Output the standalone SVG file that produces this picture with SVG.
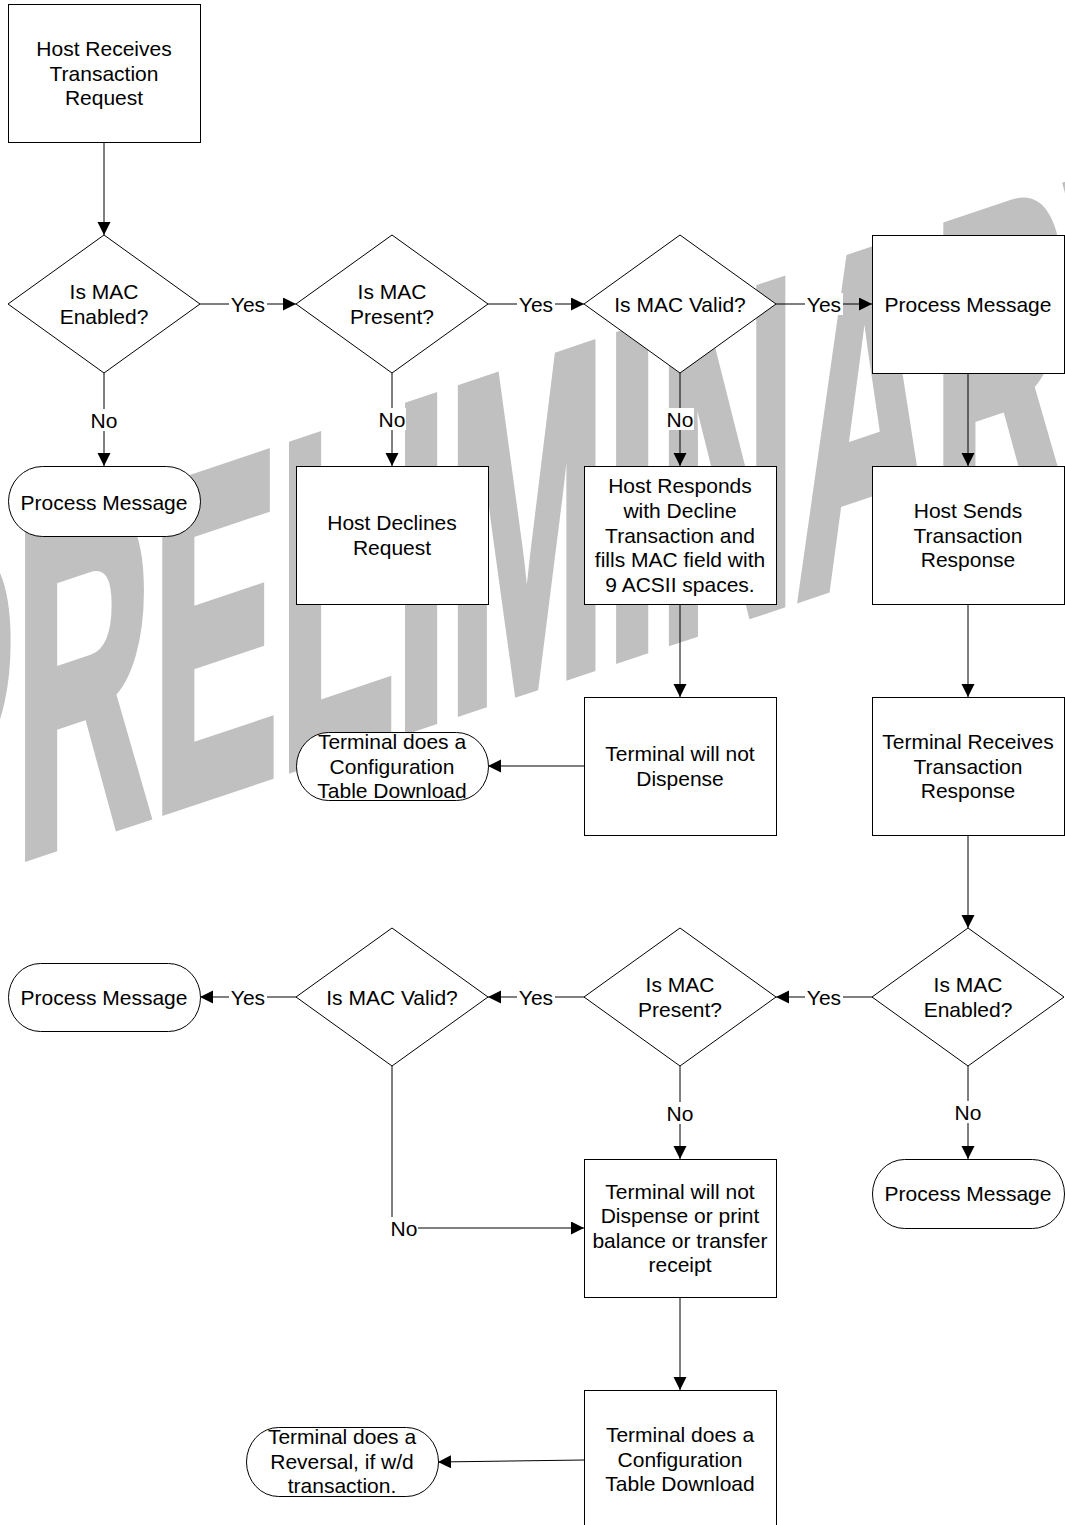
<svg xmlns="http://www.w3.org/2000/svg" width="1065" height="1525" viewBox="0 0 1065 1525">
<style>
.n{fill:#fff;stroke:#000;stroke-width:1}
.t{font-family:"Liberation Sans",Arial,sans-serif;font-size:21px;fill:#000;text-anchor:middle}
.c{stroke:#000;stroke-width:1;fill:none}
.lb{fill:#fff}
.wm{font-family:"Liberation Sans",Arial,sans-serif;font-weight:bold;font-size:190px;fill:#c0c0c0;stroke:#c0c0c0;stroke-width:9;stroke-linejoin:miter}
</style>
<defs>
<marker id="ah" markerUnits="userSpaceOnUse" markerWidth="14" markerHeight="14" refX="13" refY="6.5" orient="auto">
<path d="M0,0 L13,6.5 L0,13 z" fill="#000"/>
</marker>
</defs>
<rect width="1065" height="1525" fill="#fff"/>
<g id="watermark" transform="matrix(1,-0.335,0,2.45,0,864.6)">
<text class="wm" x="-112" y="0" vector-effect="non-scaling-stroke">PRELIMINARY</text>
</g>
<g id="connectors">
<path class="c" d="M104,142 V235" marker-end="url(#ah)"/>
<path class="c" d="M200,304 H296" marker-end="url(#ah)"/>
<path class="c" d="M488,304 H584" marker-end="url(#ah)"/>
<path class="c" d="M776,304 H872" marker-end="url(#ah)"/>
<path class="c" d="M104,373 V466" marker-end="url(#ah)"/>
<path class="c" d="M392,373 V466" marker-end="url(#ah)"/>
<path class="c" d="M680,373 V466" marker-end="url(#ah)"/>
<path class="c" d="M968,373 V466" marker-end="url(#ah)"/>
<path class="c" d="M680,604 V697" marker-end="url(#ah)"/>
<path class="c" d="M584,766 H488" marker-end="url(#ah)"/>
<path class="c" d="M968,604 V697" marker-end="url(#ah)"/>
<path class="c" d="M968,835 V928" marker-end="url(#ah)"/>
<path class="c" d="M872,997 H776" marker-end="url(#ah)"/>
<path class="c" d="M584,997 H488" marker-end="url(#ah)"/>
<path class="c" d="M296,997 H200" marker-end="url(#ah)"/>
<path class="c" d="M968,1066 V1159" marker-end="url(#ah)"/>
<path class="c" d="M680,1066 V1159" marker-end="url(#ah)"/>
<path class="c" d="M392,1066 V1228 H584" marker-end="url(#ah)"/>
<path class="c" d="M680,1297 V1390" marker-end="url(#ah)"/>
<path class="c" d="M584,1460 L438,1462" marker-end="url(#ah)"/>
<g id="labels">
<rect class="lb" x="229" y="293" width="38" height="22"/><text class="t" x="248" y="311.5">Yes</text>
<rect class="lb" x="517" y="293" width="38" height="22"/><text class="t" x="536" y="311.5">Yes</text>
<rect class="lb" x="805" y="293" width="38" height="22"/><text class="t" x="824" y="311.5">Yes</text>
<rect class="lb" x="90" y="409" width="28" height="22"/><text class="t" x="104" y="428">No</text>
<rect class="lb" x="378" y="408" width="28" height="22"/><text class="t" x="392" y="426.5">No</text>
<rect class="lb" x="666" y="408" width="28" height="22"/><text class="t" x="680" y="426.5">No</text>
<rect class="lb" x="805" y="986" width="38" height="22"/><text class="t" x="824" y="1004.5">Yes</text>
<rect class="lb" x="517" y="986" width="38" height="22"/><text class="t" x="536" y="1004.5">Yes</text>
<rect class="lb" x="229" y="986" width="38" height="22"/><text class="t" x="248" y="1004.5">Yes</text>
<rect class="lb" x="954" y="1101" width="28" height="22"/><text class="t" x="968" y="1119.5">No</text>
<rect class="lb" x="666" y="1102" width="28" height="22"/><text class="t" x="680" y="1120.5">No</text>
<rect class="lb" x="390" y="1217" width="28" height="22"/><text class="t" x="404" y="1235.5">No</text>
</g>
</g>
<g id="n1"><rect class="n" x="8.5" y="4.5" width="192" height="138"/>
<text class="t" x="104" y="55.9">Host Receives</text><text class="t" x="104" y="80.5">Transaction</text><text class="t" x="104" y="105.1">Request</text></g>
<g id="d1"><path class="n" d="M104,235 L200,304 L104,373 L8,304 Z"/>
<text class="t" x="104" y="299.2">Is MAC</text><text class="t" x="104" y="323.8">Enabled?</text></g>
<g id="d2"><path class="n" d="M392,235 L488,304 L392,373 L296,304 Z"/>
<text class="t" x="392" y="299.2">Is MAC</text><text class="t" x="392" y="323.8">Present?</text></g>
<g id="d3"><path class="n" d="M680,235 L776,304 L680,373 L584,304 Z"/>
<text class="t" x="680" y="311.5">Is MAC Valid?</text></g>
<g id="pm1"><rect class="n" x="872.5" y="235.5" width="192" height="138"/>
<text class="t" x="968" y="311.5">Process Message</text></g>
<g id="t1"><rect class="n" x="8.5" y="466.5" width="192" height="70" rx="34" ry="35"/>
<text class="t" x="104" y="509.5">Process Message</text></g>
<g id="n2"><rect class="n" x="296.5" y="466.5" width="192" height="138"/>
<text class="t" x="392" y="530.2">Host Declines</text><text class="t" x="392" y="554.8">Request</text></g>
<g id="n3"><rect class="n" x="584.5" y="466.5" width="192" height="138"/>
<text class="t" x="680" y="493.3">Host Responds</text><text class="t" x="680" y="517.9">with Decline</text><text class="t" x="680" y="542.5">Transaction and</text><text class="t" x="680" y="567.1">fills MAC field with</text><text class="t" x="680" y="591.7">9 ACSII spaces.</text></g>
<g id="n4"><rect class="n" x="872.5" y="466.5" width="192" height="138"/>
<text class="t" x="968" y="517.9">Host Sends</text><text class="t" x="968" y="542.5">Transaction</text><text class="t" x="968" y="567.1">Response</text></g>
<g id="n5"><rect class="n" x="584.5" y="697.5" width="192" height="138"/>
<text class="t" x="680" y="761.2">Terminal will not</text><text class="t" x="680" y="785.8">Dispense</text></g>
<g id="t2"><rect class="n" x="296.5" y="732.5" width="192" height="68" rx="32" ry="34"/>
<text class="t" x="392" y="748.9">Terminal does a</text><text class="t" x="392" y="773.5">Configuration</text><text class="t" x="392" y="798.1">Table Download</text></g>
<g id="n6"><rect class="n" x="872.5" y="697.5" width="192" height="138"/>
<text class="t" x="968" y="748.9">Terminal Receives</text><text class="t" x="968" y="773.5">Transaction</text><text class="t" x="968" y="798.1">Response</text></g>
<g id="d4"><path class="n" d="M968,928 L1064,997 L968,1066 L872,997 Z"/>
<text class="t" x="968" y="992.2">Is MAC</text><text class="t" x="968" y="1016.8">Enabled?</text></g>
<g id="d5"><path class="n" d="M680,928 L776,997 L680,1066 L584,997 Z"/>
<text class="t" x="680" y="992.2">Is MAC</text><text class="t" x="680" y="1016.8">Present?</text></g>
<g id="d6"><path class="n" d="M392,928 L488,997 L392,1066 L296,997 Z"/>
<text class="t" x="392" y="1004.5">Is MAC Valid?</text></g>
<g id="t3"><rect class="n" x="8.5" y="963.5" width="192" height="68" rx="32" ry="34"/>
<text class="t" x="104" y="1004.5">Process Message</text></g>
<g id="n7"><rect class="n" x="584.5" y="1159.5" width="192" height="138"/>
<text class="t" x="680" y="1198.6">Terminal will not</text><text class="t" x="680" y="1223.2">Dispense or print</text><text class="t" x="680" y="1247.8">balance or transfer</text><text class="t" x="680" y="1272.4">receipt</text></g>
<g id="t4"><rect class="n" x="872.5" y="1159.5" width="192" height="69" rx="32" ry="34.5"/>
<text class="t" x="968" y="1201">Process Message</text></g>
<g id="n8"><rect class="n" x="584.5" y="1390.5" width="192" height="138"/>
<text class="t" x="680" y="1441.9">Terminal does a</text><text class="t" x="680" y="1466.5">Configuration</text><text class="t" x="680" y="1491.1">Table Download</text></g>
<g id="t5"><rect class="n" x="246.5" y="1427.5" width="192" height="69" rx="32" ry="34.5"/>
<text class="t" x="342" y="1443.9">Terminal does a</text><text class="t" x="342" y="1468.5">Reversal, if w/d</text><text class="t" x="342" y="1493.1">transaction.</text></g>
</svg>
